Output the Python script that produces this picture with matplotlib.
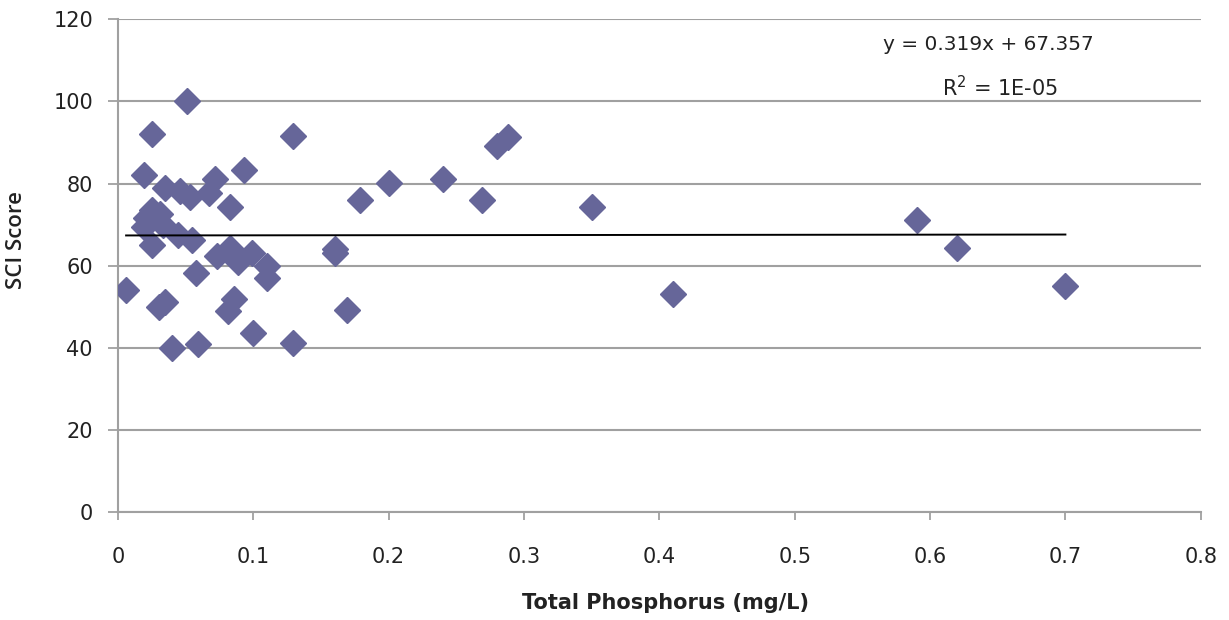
import numpy as np
import matplotlib
matplotlib.use("Agg")
import matplotlib.pyplot as plt

# total phosphorus (mg/L) vs SCI score per site
phosphorus = [0.006, 0.019, 0.025, 0.051, 0.129, 0.093, 0.072, 0.035, 0.046, 0.053,
              0.067, 0.083, 0.025, 0.021, 0.031, 0.019, 0.033, 0.025, 0.044, 0.055,
              0.058, 0.073, 0.083, 0.089, 0.099, 0.110, 0.110, 0.030, 0.035, 0.086,
              0.081, 0.100, 0.040, 0.059, 0.129, 0.160, 0.160, 0.169, 0.179, 0.200,
              0.240, 0.269, 0.280, 0.288, 0.350, 0.410, 0.590, 0.620, 0.700]
sci_score = [54.0, 82.0, 92.0, 100.0, 91.5, 83.3, 81.0, 79.0, 78.3, 76.7,
             77.7, 74.2, 73.5, 71.5, 72.7, 69.5, 70.0, 65.0, 67.4, 66.3,
             58.3, 62.3, 64.2, 60.9, 63.2, 59.8, 57.1, 50.0, 51.2, 51.8,
             49.0, 43.7, 40.0, 41.0, 41.2, 64.0, 63.2, 49.2, 75.9, 80.2,
             81.2, 75.9, 89.2, 91.3, 74.3, 53.0, 71.0, 64.2, 55.1]

slope = 0.319
intercept = 67.357
r_squared_label = "1E-05"

x_ticks = [0, 0.1, 0.2, 0.3, 0.4, 0.5, 0.6, 0.7, 0.8]
x_tick_labels = ["0", "0.1", "0.2", "0.3", "0.4", "0.5", "0.6", "0.7", "0.8"]
y_ticks = [0, 20, 40, 60, 80, 100, 120]

grid_color = "#a0a0a0"
marker_color = "#666699"
text_color = "#222222"

fig = plt.figure(figsize=(12.29, 6.20), dpi=100)
ax = fig.add_axes([0.096, 0.174, 0.881, 0.795])

ax.set_xlim(0, 0.8)
ax.set_ylim(0, 120)

# horizontal gridlines only
ax.yaxis.grid(True, color=grid_color, linewidth=1.5)
ax.set_axisbelow(True)

ax.plot(phosphorus, sci_score, linestyle="none", marker="D", markersize=13.5,
        color=marker_color, markeredgecolor=marker_color, zorder=3)

# linear trendline over the data range
xs = np.array([min(phosphorus), max(phosphorus)])
ax.plot(xs, slope * xs + intercept, color="black", linewidth=1.4, zorder=4)

ax.text(0.643, 113.8, f"y = {slope:.3f}x + {intercept:.3f}",
        ha="center", va="center", fontsize=14.5, color=text_color)
ax.text(0.652, 103.4, f"R$^2$ = {r_squared_label}",
        ha="center", va="center", fontsize=15, color=text_color)

for side in ["top", "right"]:
    ax.spines[side].set_visible(False)
for side in ["left", "bottom"]:
    ax.spines[side].set_color(grid_color)
    ax.spines[side].set_linewidth(1.5)

ax.set_xticks(x_ticks)
ax.set_xticklabels(x_tick_labels, fontsize=15, color=text_color)
ax.set_yticks(y_ticks)
ax.set_yticklabels([str(v) for v in y_ticks], fontsize=15, color=text_color)
ax.tick_params(axis="both", direction="out", width=1.3, color=grid_color)
ax.tick_params(axis="x", length=6, pad=19)
ax.tick_params(axis="y", length=7, pad=11)

ax.set_xlabel("Total Phosphorus (mg/L)", fontsize=15, fontweight="bold",
              color=text_color, va="top")
ax.xaxis.set_label_coords(0.506, -0.165)

fig.text(17 / 1229, 1 - 240 / 620, "SCI Score", rotation=90, ha="center",
         va="center", fontsize=16, fontweight="semibold", color=text_color,
         family=["Open Sans", "DejaVu Sans"])

fig.savefig("out.png", dpi=100)
